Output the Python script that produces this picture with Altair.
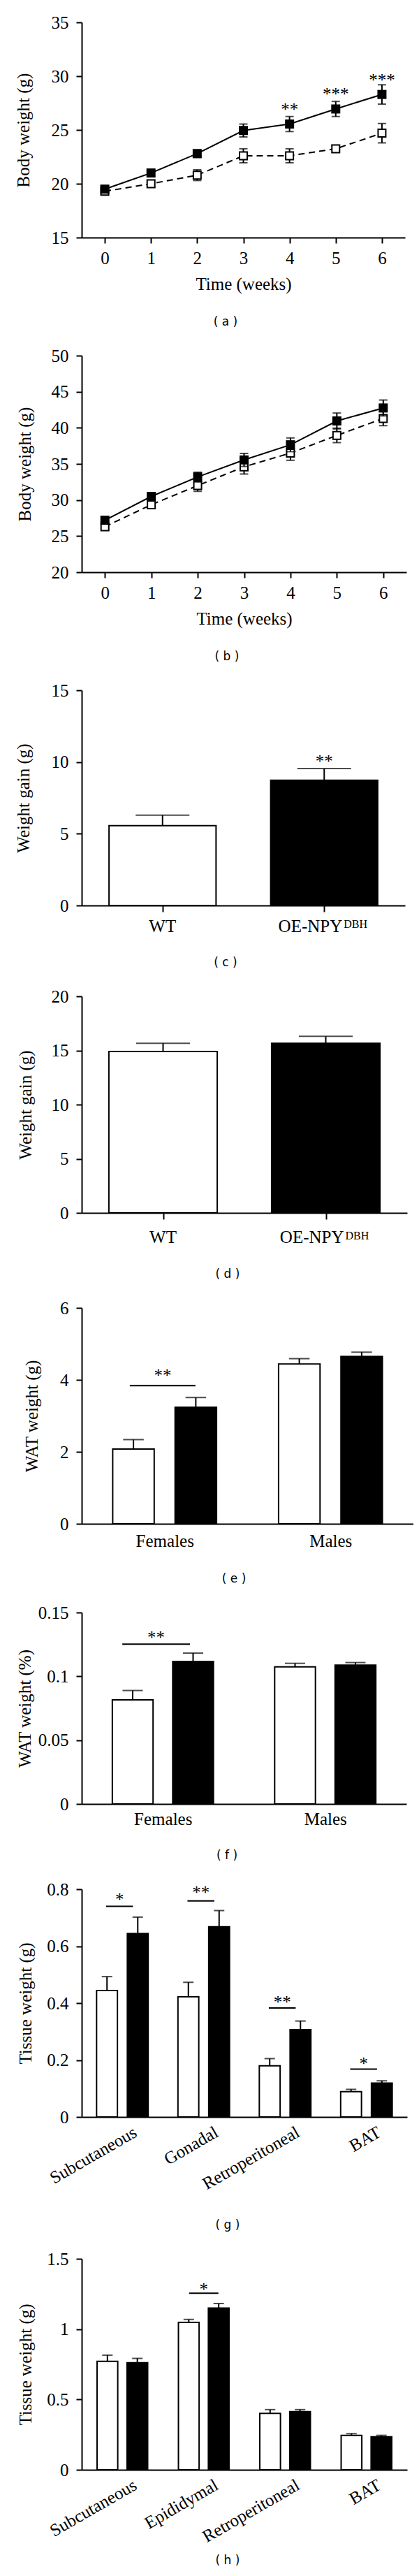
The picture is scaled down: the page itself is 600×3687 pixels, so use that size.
import json
import altair as alt
import pandas as pd

SERIF = "Liberation Serif"
SANS = "DejaVu Sans"
FS = 25

# ---------------- data ----------------
weeks = [0, 1, 2, 3, 4, 5, 6]

# (a) body weight, OE-NPY (filled) vs WT (open)
a_oe = [19.5, 21.0, 22.8, 24.95, 25.55, 26.95, 28.3]
a_oe_err = [0.25, 0.3, 0.35, 0.6, 0.7, 0.7, 0.9]
a_wt = [19.3, 20.0, 20.8, 22.6, 22.6, 23.25, 24.7]
a_wt_err = [0.2, 0.3, 0.5, 0.65, 0.65, 0.3, 0.9]
a_star_week = [4, 5, 6]
a_star_text = ["**", "***", "***"]
a_star_y = [27.15, 28.55, 29.9]

# (b)
b_oe = [27.2, 30.5, 33.2, 35.55, 37.65, 40.95, 42.75]
b_oe_err = [0.3, 0.5, 0.65, 0.9, 0.95, 1.1, 1.1]
b_wt = [26.3, 29.35, 32.0, 34.6, 36.5, 38.95, 41.3]
b_wt_err = [0.3, 0.4, 0.8, 1.0, 1.0, 1.0, 1.0]

# (c), (d) weight gain
genos = ["WT", "OE"]
c_val = [5.56, 8.73]
c_err = [0.73, 0.81]
c_star_text = ["**"]
c_star_y = [10.23]
d_val = [14.9, 15.66]
d_err = [0.76, 0.64]

# (e), (f) WAT weight
sexes = ["Females", "Males"]
e_wt = [2.08, 4.44]
e_wt_err = [0.26, 0.15]
e_oe = [3.24, 4.65]
e_oe_err = [0.27, 0.12]
e_sig_grp = [0]
e_sig_y = [3.84]
e_star_text = ["**"]
e_star_y = [4.19]

f_wt = [0.0816, 0.1075]
f_wt_err = [0.0073, 0.0027]
f_oe = [0.1117, 0.1088]
f_oe_err = [0.0065, 0.002]
f_sig_grp = [0]
f_sig_y = [0.1252]
f_star_text = ["**"]
f_star_y = [0.1327]

# (g) tissues
g_tissue = ["Subcutaneous", "Gonadal", "Retroperitoneal", "BAT"]
g_wt = [0.444, 0.422, 0.18, 0.089]
g_wt_err = [0.049, 0.051, 0.025, 0.008]
g_oe = [0.644, 0.668, 0.307, 0.119]
g_oe_err = [0.058, 0.057, 0.03, 0.008]
g_sig_grp = [0, 1, 2, 3]
g_sig_y = [0.74, 0.759, 0.383, 0.168]
g_star_text = ["*", "**", "**", "*"]
g_star_y = [0.773, 0.797, 0.412, 0.197]

# (h) tissues
h_tissue = ["Subcutaneous", "Epididymal", "Retroperitoneal", "BAT"]
h_wt = [0.771, 1.048, 0.401, 0.245]
h_wt_err = [0.044, 0.021, 0.027, 0.012]
h_oe = [0.761, 1.150, 0.414, 0.235]
h_oe_err = [0.031, 0.032, 0.014, 0.010]
h_sig_grp = [1]
h_sig_y = [1.256]
h_star_text = ["*"]
h_star_y = [1.30]


# ---------------- helpers ----------------
def yscale(lo, hi):
    return alt.Scale(domain=[lo, hi], nice=False, zero=False)


def yaxis(title, values, ext):
    return alt.Axis(title=title, values=values, format=".2~f", minExtent=ext, maxExtent=ext,
                    titlePadding=8, tickSize=8, labelPadding=11, grid=False,
                    labelFlush=False, labelOverlap=False)


def caption(text, x, y):
    return alt.Chart(pd.DataFrame({"t": [text]})).mark_text(
        font=SANS, fontSize=17, baseline="middle", align="center", color="black"
    ).encode(text="t:N", x=alt.value(x), y=alt.value(y))


def line_panel(cap, oe, oe_err, wt, wt_err, ylo, yhi, yvals, sw, st, sy, W, H, E, cap_dy, cap_x):
    rows = []
    for g, vals, errs in (("WT", wt, wt_err), ("OE", oe, oe_err)):
        for w, v, e in zip(weeks, vals, errs):
            rows.append({"week": w, "geno": g, "val": v, "lo": v - e, "hi": v + e})
    df = pd.DataFrame(rows)
    X = alt.X("week:Q", scale=alt.Scale(domain=[-0.5, 6.5], nice=False, zero=False),
              axis=alt.Axis(values=weeks, title="Time (weeks)", tickSize=8, labelPadding=9,
                            titlePadding=12, grid=False, labelFlush=False))

    def Y(f):
        return alt.Y(f"{f}:Q", scale=yscale(ylo, yhi), axis=yaxis("Body weight (g)", yvals, E))

    layers = []
    for g in ["WT", "OE"]:
        sub = alt.Chart(df).transform_filter(alt.datum.geno == g)
        layers.append(sub.mark_rule(color="black", strokeWidth=2).encode(X, Y("lo"), y2="hi:Q"))
        layers.append(sub.transform_fold(["lo", "hi"], as_=["k", "v"]).mark_tick(
            orient="horizontal", color="black", size=12, thickness=2).encode(X, Y("v")))
        if g == "WT":
            layers.append(sub.mark_line(color="black", strokeWidth=2, strokeDash=[9, 6]).encode(X, Y("val")))
            layers.append(sub.mark_square(size=121, fill="white", stroke="black", strokeWidth=2,
                                          opacity=1).encode(X, Y("val")))
        else:
            layers.append(sub.mark_line(color="black", strokeWidth=2).encode(X, Y("val")))
            layers.append(sub.mark_square(size=169, color="black", opacity=1).encode(X, Y("val")))
    if st:
        sdf = pd.DataFrame({"week": sw, "t": st, "y": sy})
        layers.append(alt.Chart(sdf).mark_text(font=SERIF, fontSize=25, baseline="alphabetic", dy=12,
                                               color="black").encode(X, Y("y"), text="t:N"))
    layers.append(caption(cap, cap_x, H + cap_dy))
    return alt.layer(*layers).properties(width=W, height=H)


def xscale(n):
    return alt.Scale(domain=[-0.5, n - 0.5], nice=False, zero=False)


def single_bar_panel(cap, vals, errs, ylo, yhi, yvals, ytitle, st, sy, W, H, E, half,
                     cap_dy, cap_x, lab_base, dbh_base):
    df = pd.DataFrame({"pos": [0, 1], "geno": genos, "val": vals,
                       "hi": [v + e for v, e in zip(vals, errs)]})
    df["left"] = df["pos"] - half
    df["right"] = df["pos"] + half
    df["zero"] = 0.0
    ax = alt.Axis(title=None, labels=False, ticks=True, tickSize=9, values=[0, 1], grid=False)

    def X(f):
        return alt.X(f"{f}:Q", scale=xscale(2), axis=ax)

    def Y(f):
        return alt.Y(f"{f}:Q", scale=yscale(ylo, yhi), axis=yaxis(ytitle, yvals, E))

    fill = alt.Fill("geno:N", scale=alt.Scale(domain=genos, range=["white", "black"]), legend=None)
    base = alt.Chart(df)
    layers = [
        base.mark_bar(stroke="black", strokeWidth=2).encode(
            X("left"), x2="right:Q", y=Y("val"), y2="zero:Q", fill=fill),
        base.mark_rule(color="black", strokeWidth=2).encode(X("pos"), Y("val"), y2="hi:Q"),
        base.mark_tick(orient="horizontal", color="black", thickness=2, size=77).encode(X("pos"), Y("hi")),
    ]
    if st:
        sdf = pd.DataFrame({"pos": [1] * len(st), "t": st, "y": sy})
        layers.append(alt.Chart(sdf).mark_text(font=SERIF, fontSize=25, baseline="alphabetic", dy=12,
                                               color="black").encode(X("pos"), Y("y"), text="t:N"))
    lab = pd.DataFrame({"pos": [0, 1], "t": ["WT", "OE-NPY"]})
    layers.append(alt.Chart(lab).transform_filter(alt.datum.pos == 0).mark_text(
        font=SERIF, fontSize=FS, baseline="alphabetic", align="center", color="black"
    ).encode(X("pos"), text="t:N", y=alt.value(H + lab_base)))
    layers.append(alt.Chart(lab).transform_filter(alt.datum.pos == 1).mark_text(
        font=SERIF, fontSize=FS, baseline="alphabetic", align="right", dx=26, color="black"
    ).encode(X("pos"), text="t:N", y=alt.value(H + lab_base)))
    sup = pd.DataFrame({"pos": [1], "t": ["DBH"]})
    layers.append(alt.Chart(sup).mark_text(font=SERIF, fontSize=16, baseline="alphabetic", align="left",
                                           dx=28, color="black").encode(X("pos"), text="t:N",
                                                                        y=alt.value(H + dbh_base)))
    layers.append(caption(cap, cap_x, H + cap_dy))
    return alt.layer(*layers).properties(width=W, height=H)


def group_panel(cap, groups, wt, wt_err, oe, oe_err, ylo, yhi, yvals, ytitle,
                sig_grp, sig_y, sig_span, st, sy, W, H, E, off, half, capw, xaxis_kw, cap_dy, cap_x):
    n = len(groups)
    rows = []
    for g, sgn, vals, errs in (("WT", -1, wt, wt_err), ("OE", 1, oe, oe_err)):
        for i, (v, e) in enumerate(zip(vals, errs)):
            p = i + sgn * off
            rows.append({"pos": p, "left": p - half, "right": p + half, "geno": g,
                         "val": v, "hi": v + e, "zero": 0.0})
    df = pd.DataFrame(rows)
    ax = alt.Axis(title=None, values=list(range(n)), labelExpr=f"{json.dumps(groups)}[datum.value]",
                  grid=False, labelFlush=False, labelOverlap=False, **xaxis_kw)

    def X(f):
        return alt.X(f"{f}:Q", scale=xscale(n), axis=ax)

    def Y(f):
        return alt.Y(f"{f}:Q", scale=yscale(ylo, yhi), axis=yaxis(ytitle, yvals, E))

    fill = alt.Fill("geno:N", scale=alt.Scale(domain=genos, range=["white", "black"]), legend=None)
    base = alt.Chart(df)
    layers = [
        base.mark_bar(stroke="black", strokeWidth=2).encode(
            X("left"), x2="right:Q", y=Y("val"), y2="zero:Q", fill=fill),
        base.mark_rule(color="black", strokeWidth=2).encode(X("pos"), Y("val"), y2="hi:Q"),
        base.mark_tick(orient="horizontal", color="black", thickness=2, size=capw).encode(X("pos"), Y("hi")),
    ]
    sig = pd.DataFrame({"g": sig_grp, "y": sig_y, "t": st, "sy": sy})
    sig["x1"] = sig["g"] + sig_span[0]
    sig["x2"] = sig["g"] + sig_span[1]
    sig["xm"] = sig["g"] + (sig_span[0] + sig_span[1]) / 2
    layers.append(alt.Chart(sig).mark_rule(color="black", strokeWidth=2).encode(
        X("x1"), x2="x2:Q", y=Y("y")))
    layers.append(alt.Chart(sig).mark_text(font=SERIF, fontSize=25, baseline="alphabetic", dy=12,
                                           color="black").encode(X("xm"), Y("sy"), text="t:N"))
    layers.append(caption(cap, cap_x, H + cap_dy))
    return alt.layer(*layers).properties(width=W, height=H)


flat_kw = lambda pad: dict(ticks=False, tickSize=0, labelPadding=pad, labelAngle=0)
angled_kw = dict(ticks=False, tickSize=0, labelAngle=330, labelPadding=9, labelOffset=12)

pa = line_panel("( a )", a_oe, a_oe_err, a_wt, a_wt_err, 15, 35, [15, 20, 25, 30, 35],
                a_star_week, a_star_text, a_star_y, 463, 308, 62.7, 121, 206)
pb = line_panel("( b )", b_oe, b_oe_err, b_wt, b_wt_err, 20, 50, [20, 25, 30, 35, 40, 45, 50],
                [], [], [], 465, 310, 60.8, 121, 208)
pc = single_bar_panel("( c )", c_val, c_err, 0, 15, [0, 5, 10, 15], "Weight gain (g)",
                      c_star_text, c_star_y, 463, 308, 62.7, 0.331, 82, 206, 38, 32)
pd_ = single_bar_panel("( d )", d_val, d_err, 0, 20, [0, 5, 10, 15, 20], "Weight gain (g)",
                       [], [], 466, 310, 59.6, 0.333, 88, 209, 43, 38)
pe = group_panel("( e )", sexes, e_wt, e_wt_err, e_oe, e_oe_err, 0, 6, [0, 2, 4, 6], "WAT weight (g)",
                 e_sig_grp, e_sig_y, (-0.21, 0.186), e_star_text, e_star_y, 475, 309, 51,
                 0.188, 0.125, 29.5, flat_kw(12), 79, 218)
pf = group_panel("( f )", sexes, f_wt, f_wt_err, f_oe, f_oe_err, 0, 0.15, [0, 0.05, 0.1, 0.15],
                 "WAT weight (%)", f_sig_grp, f_sig_y, (-0.25, 0.167), f_star_text, f_star_y, 465, 274, 61,
                 0.186, 0.1255, 29, flat_kw(9), 74, 208)
pg = group_panel("( g )", g_tissue, g_wt, g_wt_err, g_oe, g_oe_err, 0, 0.8, [0, 0.2, 0.4, 0.6, 0.8],
                 "Tissue weight (g)", g_sig_grp, g_sig_y, (-0.2, 0.13), g_star_text, g_star_y, 466, 326, 59.6,
                 0.189, 0.128, 15, angled_kw, 155, 209)
ph = group_panel("( h )", h_tissue, h_wt, h_wt_err, h_oe, h_oe_err, 0, 1.5, [0, 0.5, 1, 1.5],
                 "Tissue weight (g)", h_sig_grp, h_sig_y, (-0.18, 0.18), h_star_text, h_star_y, 466, 302, 59.6,
                 0.184, 0.127, 15, angled_kw, 130, 209)

chart = alt.vconcat(pa, pb, pc, pd_, pe, pf, pg, ph, spacing=28).properties(
    padding={"left": 13, "top": 12, "right": 0, "bottom": 0},
    background="white",
).configure_axis(
    domainColor="black", domainWidth=2, tickColor="black", tickWidth=2,
    labelColor="black", titleColor="black", labelFont=SERIF, titleFont=SERIF,
    labelFontSize=FS, titleFontSize=FS, titleFontWeight="normal", grid=False,
).configure_view(stroke=None)

chart.save("out.html", embed_options={"renderer": "svg", "actions": False})
